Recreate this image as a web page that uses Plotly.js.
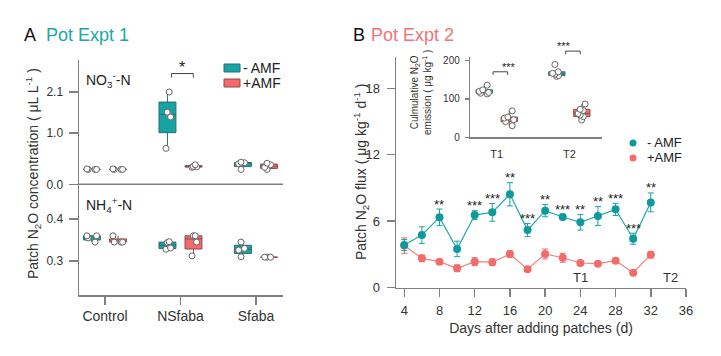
<!DOCTYPE html>
<html><head><meta charset="utf-8">
<script src="https://cdn.plot.ly/plotly-3.0.1.min.js"></script>
<style>html,body{margin:0;padding:0;background:#fff}#chart{width:721px;height:356px}</style>
</head><body><div id="chart"></div>
<script>
// ---------- Panel A : Pot Expt 1 ----------
const groupsA = ['Control', 'NSfaba', 'Sfaba'];
const no3MinusAMF = [[0.29, 0.29, 0.29, 0.30], [0.70, 1.43, 1.56, 2.10], [0.29, 0.40, 0.42, 0.43]];
const no3PlusAMF  = [[0.29, 0.29, 0.29, 0.30], [0.33, 0.34, 0.35, 0.38], [0.29, 0.33, 0.38, 0.41]];
const nh4MinusAMF = [[0.345, 0.355, 0.36, 0.36], [0.328, 0.331, 0.344, 0.346], [0.31, 0.326, 0.33, 0.345]];
const nh4PlusAMF  = [[0.345, 0.345, 0.345, 0.36], [0.312, 0.345, 0.36, 0.36], [0.309, 0.309, 0.309]];
const no3TickVals = [0, 1.0, 2.1];
const no3TickText = ['0.0', '1.0', '2.1'];
const nh4TickVals = [0.3, 0.4];
const nh4TickText = ['0.3', '0.4'];
const sigA = ['', '*', ''];

// ---------- Panel B : Pot Expt 2 ----------
const days = [4, 6, 8, 10, 12, 14, 16, 18, 20, 22, 24, 26, 28, 30, 32];
const fluxMinusAMF = [3.85, 4.75, 6.35, 3.5, 6.55, 6.8, 8.43, 5.2, 6.95, 6.38, 5.9, 6.47, 7.07, 4.42, 7.7];
const errMinusAMF  = [0.5, 0.75, 0.75, 0.7, 0.4, 0.8, 1.05, 0.6, 0.55, 0.25, 0.7, 0.85, 0.55, 0.5, 0.85];
const fluxPlusAMF  = [3.8, 2.65, 2.35, 1.75, 2.35, 2.3, 3.04, 1.66, 3.04, 2.7, 2.23, 2.17, 2.44, 1.35, 2.98];
const errPlusAMF   = [0.7, 0.3, 0.2, 0.3, 0.35, 0.3, 0.3, 0.2, 0.45, 0.4, 0.2, 0.15, 0.15, 0.15, 0.3];
const sigB = ['', '', '**', '', '***', '***', '**', '***', '**', '***', '**', '**', '***', '***', '**'];
const dayTicks = [4, 8, 12, 16, 20, 24, 28, 32, 36];
const fluxTicks = [0, 6, 12, 18];
const timeLabels = ['T1', 'T2'];
const timeLabelDays = [24, 34.2];

// ---------- Inset : cumulative emission ----------
const periods = ['T1', 'T2'];
const cumMinusAMF = [[113, 115, 117, 120, 124, 136], [159, 161, 165, 167, 171, 190]];
const cumPlusAMF  = [[30, 41, 46, 50, 53, 69], [45, 54, 58, 62, 70, 73, 87]];
const cumTicks = [0, 100, 200];
const sigInset = ['***', '***'];

// ---------- styling ----------
const W = 721, H = 356;
const PX = x => x / W, PY = y => 1 - y / H;
const FONT = 'Liberation Sans, Arial, sans-serif';
const TEAL = '#16a3a4', TEAL_D = '#0e9a9c', TEAL_LINE = '#2c6e70';
const SAL = '#f26b6a', SAL_LINE = '#8d4d4b';
const AX = '#808080', TXT = '#333';

// upper NO3 axis is compressed above 1.0 (as in the original figure)
const K = 0.7266;
const tNO3 = v => v <= 1 ? v : 1 + (v - 1) * K;

function boxTrace(cats, vals, fill, lc, xa, ya, ag, og, tf) {
  const x = [], y = [];
  cats.forEach((c, i) => vals[i].forEach(v => { x.push(c); y.push(tf ? tf(v) : v); }));
  return {
    type: 'box', x, y, xaxis: xa, yaxis: ya, fillcolor: fill,
    line: {color: lc, width: 1}, boxpoints: 'all', jitter: 0.7, pointpos: 0,
    whiskerwidth: 0, quartilemethod: 'exclusive',
    marker: {color: '#ffffff', size: 6, line: {color: '#666', width: 1}},
    alignmentgroup: ag, offsetgroup: og, showlegend: false, hoverinfo: 'skip'
  };
}

const data = [
  boxTrace(groupsA, no3MinusAMF, TEAL, TEAL_LINE, 'x', 'y2', 'A', 'm', tNO3),
  boxTrace(groupsA, no3PlusAMF, SAL, SAL_LINE, 'x', 'y2', 'A', 'p', tNO3),
  boxTrace(groupsA, nh4MinusAMF, TEAL, TEAL_LINE, 'x', 'y', 'A', 'm'),
  boxTrace(groupsA, nh4PlusAMF, SAL, SAL_LINE, 'x', 'y', 'A', 'p'),
  {
    type: 'scatter', mode: 'lines+markers', x: days, y: fluxPlusAMF, xaxis: 'x2', yaxis: 'y3',
    error_y: {type: 'data', array: errPlusAMF, color: SAL, thickness: 1, width: 3},
    line: {color: '#f08383', width: 1.2}, marker: {color: SAL, size: 8}, showlegend: false, hoverinfo: 'skip'
  },
  {
    type: 'scatter', mode: 'lines+markers', x: days, y: fluxMinusAMF, xaxis: 'x2', yaxis: 'y3',
    error_y: {type: 'data', array: errMinusAMF, color: TEAL, thickness: 1, width: 3},
    line: {color: '#25a9aa', width: 1.2}, marker: {color: TEAL_D, size: 8}, showlegend: false, hoverinfo: 'skip'
  },
  boxTrace(periods, cumMinusAMF, TEAL, TEAL_LINE, 'x3', 'y4', 'C', 'm'),
  boxTrace(periods, cumPlusAMF, SAL, SAL_LINE, 'x3', 'y4', 'C', 'p')
];

const axBase = {
  showline: true, linecolor: AX, linewidth: 1.5, ticks: 'outside', tickcolor: AX, tickwidth: 1.5,
  showgrid: false, zeroline: false, tickfont: {family: FONT, size: 12, color: TXT}
};

const xARange = [-0.344, 2.358];
const y2Range = [0, 2.423];
const x3Range = [-0.368, 1.45];
const y4Range = [0, 210.4];
const frac = (v, r) => (v - r[0]) / (r[1] - r[0]);

const shapes = [];
const annotations = [];

// divider between NO3 and NH4 sections
shapes.push({type: 'line', xref: 'x domain', yref: 'y2 domain', x0: 0, x1: 1, y0: 0, y1: 0,
  line: {color: AX, width: 1.5}});

// significance bracket panel A
sigA.forEach((s, i) => {
  if (!s) return;
  const top = Math.max(...no3MinusAMF[i].map(tNO3), ...no3PlusAMF[i].map(tNO3)) + 0.36;
  const xa = frac(i - 0.12, xARange), xb = frac(i + 0.17, xARange);
  const yt = frac(top, y2Range), yb = frac(top - 0.08, y2Range);
  shapes.push({type: 'path', xref: 'x domain', yref: 'y2 domain',
    path: `M${xa},${yb} L${xa},${yt} L${xb},${yt} L${xb},${yb}`, line: {color: '#444', width: 1}});
  annotations.push({xref: 'x domain', yref: 'y2 domain', x: (xa + xb) / 2, y: yt, text: s,
    showarrow: false, yanchor: 'middle', yshift: 6, font: {family: FONT, size: 16, color: '#222'}});
});

// significance brackets inset
sigInset.forEach((s, i) => {
  const top = Math.max(...cumMinusAMF[i], ...cumPlusAMF[i]) + 35;
  const xa = frac(i - 0.05, x3Range), xb = frac(i + 0.15, x3Range);
  const yt = frac(top, y4Range), yb = frac(top - 8, y4Range);
  shapes.push({type: 'path', xref: 'x3 domain', yref: 'y4 domain',
    path: `M${xa},${yb} L${xa},${yt} L${xb},${yt} L${xb},${yb}`, line: {color: '#444', width: 1}});
  annotations.push({xref: 'x3 domain', yref: 'y4 domain', x: (xa + xb) / 2, y: yt, text: s,
    showarrow: false, yanchor: 'middle', yshift: 5, font: {family: FONT, size: 11, color: '#222'}});
});

// significance stars panel B
sigB.forEach((s, i) => {
  if (!s) return;
  annotations.push({xref: 'x2', yref: 'y3', x: days[i], y: fluxMinusAMF[i] + errMinusAMF[i], text: s,
    showarrow: false, yanchor: 'middle', yshift: 5, font: {family: FONT, size: 13, color: '#222'}});
});

// T1 / T2 markers in panel B
timeLabels.forEach((t, i) => {
  annotations.push({xref: 'x2', yref: 'y3', x: timeLabelDays[i], y: 0.9, text: t, showarrow: false,
    font: {family: FONT, size: 13, color: TXT}});
});

// titles and labels
annotations.push(
  {xref: 'paper', yref: 'paper', x: PX(22), y: PY(35), xanchor: 'left', yanchor: 'middle', text: 'A',
    showarrow: false, font: {family: FONT, size: 18, color: '#111'}},
  {xref: 'paper', yref: 'paper', x: PX(44), y: PY(35), xanchor: 'left', yanchor: 'middle', text: 'Pot Expt 1',
    showarrow: false, font: {family: FONT, size: 18, color: '#1ba7a8'}},
  {xref: 'paper', yref: 'paper', x: PX(351), y: PY(35), xanchor: 'left', yanchor: 'middle', text: 'B',
    showarrow: false, font: {family: FONT, size: 18, color: '#111'}},
  {xref: 'paper', yref: 'paper', x: PX(369), y: PY(35), xanchor: 'left', yanchor: 'middle', text: 'Pot Expt 2',
    showarrow: false, font: {family: FONT, size: 18, color: '#f07476'}},
  {xref: 'paper', yref: 'paper', x: PX(33), y: PY(174), xanchor: 'center', yanchor: 'middle', textangle: -90, showarrow: false,
    text: 'Patch N<sub>2</sub>O concentration ( μL L<sup>-1</sup> )', font: {family: FONT, size: 14, color: TXT}},
  {xref: 'paper', yref: 'paper', x: PX(361), y: PY(172), xanchor: 'center', yanchor: 'middle', textangle: -90, showarrow: false,
    text: 'Patch N<sub>2</sub>O flux ( μg kg<sup>-1</sup> d<sup>-1</sup> )', font: {family: FONT, size: 14, color: TXT}},
  {xref: 'paper', yref: 'paper', x: PX(84), y: PY(80), xanchor: 'left', yanchor: 'middle', showarrow: false,
    text: 'NO<sub>3</sub><sup>-</sup>-N', font: {family: FONT, size: 14, color: '#222'}},
  {xref: 'paper', yref: 'paper', x: PX(84), y: PY(205), xanchor: 'left', yanchor: 'middle', showarrow: false,
    text: 'NH<sub>4</sub><sup>+</sup>-N', font: {family: FONT, size: 14, color: '#222'}},
  {xref: 'paper', yref: 'paper', x: PX(421), y: PY(93), xanchor: 'center', yanchor: 'middle', textangle: -90, showarrow: false,
    text: 'Culmulative N<sub>2</sub>O<br>emission ( μg kg<sup>-1</sup> )', font: {family: FONT, size: 10, color: TXT}}
);

// legends (panel A: boxes, panel B: dots)
const legA = [['- AMF', TEAL, TEAL_LINE, 68], ['+AMF', SAL, SAL_LINE, 83]];
legA.forEach(([t, f, l, cy]) => {
  shapes.push({type: 'rect', xref: 'paper', yref: 'paper', x0: PX(224), x1: PX(240), y0: PY(cy + 4), y1: PY(cy - 4),
    fillcolor: f, line: {color: l, width: 1}});
  annotations.push({xref: 'paper', yref: 'paper', x: PX(241), y: PY(cy), xanchor: 'left', yanchor: 'middle',
    text: t, showarrow: false, font: {family: FONT, size: 14, color: '#222'}});
});
const legB = [['- AMF', TEAL_D, 143], ['+AMF', SAL, 158]];
legB.forEach(([t, f, cy]) => {
  shapes.push({type: 'circle', xref: 'paper', yref: 'paper', x0: PX(629.5), x1: PX(636.5), y0: PY(cy + 3.5), y1: PY(cy - 3.5),
    fillcolor: f, line: {width: 0}});
  annotations.push({xref: 'paper', yref: 'paper', x: PX(645), y: PY(cy - 1), xanchor: 'left', yanchor: 'middle',
    text: t, showarrow: false, font: {family: FONT, size: 13, color: '#222'}});
});

const layout = {
  width: W, height: H, margin: {l: 0, r: 0, t: 0, b: 0},
  paper_bgcolor: '#fff', plot_bgcolor: 'rgba(0,0,0,0)', showlegend: false,
  font: {family: FONT, color: TXT},
  boxmode: 'group', boxgap: 0.31, boxgroupgap: 0.35,
  xaxis: Object.assign({}, axBase, {domain: [PX(79), PX(283)], anchor: 'y', type: 'category',
    categoryorder: 'array', categoryarray: groupsA, range: xARange, ticklen: 8,
    tickfont: {family: FONT, size: 14, color: TXT}, ticklabelstandoff: 0}),
  yaxis: Object.assign({}, axBase, {domain: [PY(295), PY(184.3)], anchor: 'x', range: [0.219, 0.4826],
    tickvals: nh4TickVals, ticktext: nh4TickText, ticklen: 9, ticklabelstandoff: 3}),
  yaxis2: Object.assign({}, axBase, {domain: [PY(184.3), PY(60)], anchor: 'x', range: y2Range,
    tickvals: no3TickVals.map(tNO3), ticktext: no3TickText, ticklen: 9, ticklabelstandoff: 3}),
  xaxis2: Object.assign({}, axBase, {domain: [PX(396), PX(686)], anchor: 'y3', range: [3.06, 36],
    tickvals: dayTicks, ticklen: 8, tickfont: {family: FONT, size: 13, color: TXT}, ticklabelstandoff: 2,
    title: {text: 'Days after adding patches (d)', standoff: 6, font: {family: FONT, size: 14, color: TXT}}}),
  yaxis3: Object.assign({}, axBase, {domain: [PY(287.7), PY(57)], anchor: 'x2', range: [0, 20.82],
    tickvals: fluxTicks, ticklen: 8, tickfont: {family: FONT, size: 13, color: TXT}, ticklabelstandoff: 4}),
  xaxis3: Object.assign({}, axBase, {domain: [PX(470), PX(602)], anchor: 'y4', type: 'category',
    categoryorder: 'array', categoryarray: periods, range: x3Range, ticks: '',
    tickfont: {family: FONT, size: 11, color: TXT}, ticklabelstandoff: 6, linewidth: 1.2}),
  yaxis4: Object.assign({}, axBase, {domain: [PY(137.3), PY(56.7)], anchor: 'x3', range: y4Range,
    tickvals: cumTicks, ticklen: 4, tickfont: {family: FONT, size: 10, color: TXT}, ticklabelstandoff: 3, linewidth: 1.2}),
  shapes, annotations
};

Plotly.newPlot('chart', data, layout, {staticPlot: true});
</script></body></html>
